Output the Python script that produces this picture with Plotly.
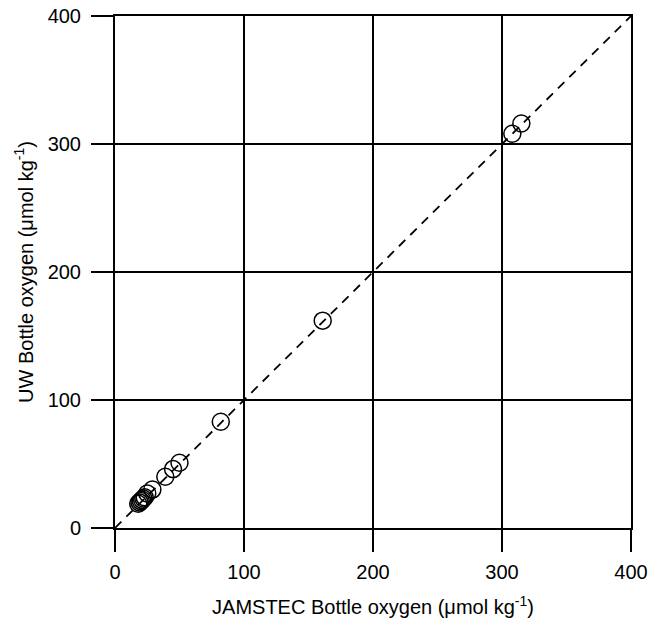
import plotly.graph_objects as go

jamstec = [315, 308, 161, 82, 50, 45, 39, 29, 25, 23, 21, 20, 19, 18, 22]
uw = [316, 308, 162, 83, 51, 46, 40, 30, 27, 24, 22, 21, 20, 19, 23]
line_vals = [0, 400]
tick_vals = [0, 100, 200, 300, 400]

fig = go.Figure()
fig.add_trace(go.Scatter(x=line_vals, y=line_vals, mode="lines",
                         line=dict(color="black", width=1.8, dash="9px,7px"),
                         showlegend=False, hoverinfo="skip"))
fig.add_trace(go.Scatter(x=jamstec, y=uw, mode="markers",
                         marker=dict(symbol="circle-open", size=17, color="black",
                                     line=dict(color="black", width=1.5)),
                         showlegend=False))

axis_common = dict(range=[0, 400], tickvals=tick_vals, showgrid=True,
                   gridcolor="black", gridwidth=2, showline=True, linecolor="black",
                   linewidth=2, mirror=True, ticks="outside", ticklen=22, tickwidth=2,
                   tickcolor="black", zeroline=False, automargin=False,
                   tickfont=dict(family="Liberation Sans, Arial", size=20, color="black"))

fig.update_layout(
    width=652, height=623,
    margin=dict(l=115, r=21, t=16, b=95),
    plot_bgcolor="white", paper_bgcolor="white",
    font=dict(family="Liberation Sans, Arial", size=20, color="black"),
    xaxis=dict(**axis_common, ticklabelstandoff=3,
               title=dict(text="JAMSTEC Bottle oxygen (μmol kg<sup>-1</sup>)",
                          font=dict(size=20), standoff=18)),
    yaxis=dict(**axis_common, ticklabelstandoff=6,
               title=dict(text="UW Bottle oxygen (μmol kg<sup>-1</sup>)",
                          font=dict(size=20), standoff=9)),
)
fig.write_html("out.html")
